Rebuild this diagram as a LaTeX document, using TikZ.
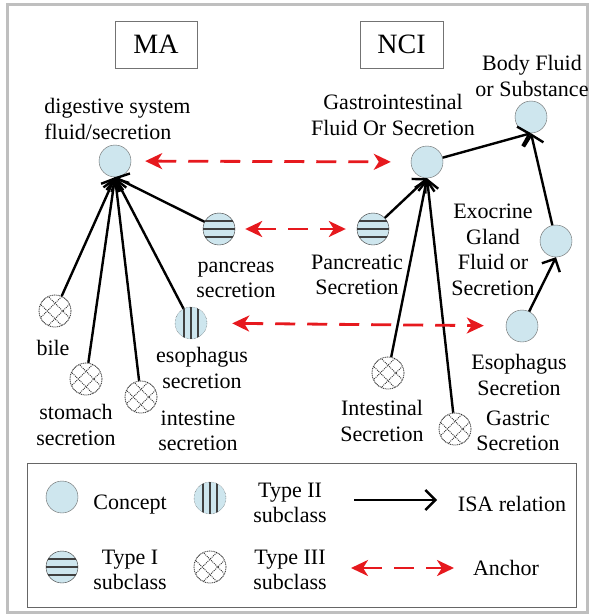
\documentclass[tikz,border=0pt]{standalone}
\usepackage{fontspec}
\setmainfont{Liberation Serif}
\usepackage{tikz}
\usetikzlibrary{arrows.meta}

\definecolor{cfill}{RGB}{206,230,238}
\definecolor{ared}{RGB}{230,25,30}

\begin{document}
\begin{tikzpicture}[x=1pt, y=-1pt, thick,
  lbl/.style = {align=center, inner sep=0pt, font=\fontsize{22}{25.5}\selectfont},
  hdr/.style = {draw=black!55, thin, minimum height=47pt, inner sep=0pt, font=\fontsize{28}{30}\selectfont},
  concept/.style = {circle, draw=black!60, thin, fill=cfill, minimum size=32pt, inner sep=0pt},
  typei/.style = {concept, draw=black!80, path picture={
      \foreach \k in {-8,0,8}
        \draw[black!75, line width=1.3pt] ([yshift=\k pt]path picture bounding box.west) -- ([yshift=\k pt]path picture bounding box.east);}},
  typeii/.style = {concept, densely dotted, draw=black!80, path picture={
      \foreach \k in {-7,0,7}
        \draw[black!75, solid, line width=1.3pt] ([xshift=\k pt]path picture bounding box.north) -- ([xshift=\k pt]path picture bounding box.south);}},
  typeiii/.style = {concept, fill=white, line width=0.8pt, dash pattern=on 1pt off 0.8pt, draw=black!85, path picture={
      \foreach \k in {-16,-5.5,5.5,16} {
        \draw[black!80, line width=0.8pt, dash pattern=on 1pt off 1pt] ([shift={({(-\k-24)*0.7071},{(\k-24)*0.7071})}]path picture bounding box.center) -- ([shift={({(-\k+24)*0.7071},{(\k+24)*0.7071})}]path picture bounding box.center);
        \draw[black!80, line width=0.8pt, dash pattern=on 1pt off 1pt] ([shift={({(\k-24)*0.7071},{(\k+24)*0.7071})}]path picture bounding box.center) -- ([shift={({(\k+24)*0.7071},{(\k-24)*0.7071})}]path picture bounding box.center);}}},
  isa/.style = {-{Straight Barb[length=10pt,width=20pt]}, line width=2.4pt},
  anc/.style = {{Stealth[length=17pt,width=16pt,inset=5pt]}-{Stealth[length=17pt,width=16pt,inset=5pt]}, draw=ared, line width=2.8pt, dash pattern=on 20pt off 12pt}]

\useasboundingbox (0,0) rectangle (594,615);
\draw[line width=3pt, black!25] (7,4.5) rectangle (587.5,612);

\node[hdr, minimum width=82pt] (ma) at (156,44.5) {MA};
\node[hdr, minimum width=83pt] (nci) at (401.5,44.5) {NCI};

% MA side
\node[concept] (dig) at (115,161) {};
\node[lbl, align=left, anchor=west] (digL) at (44,119) {digestive system\\fluid/secretion};
\node[typei] (pan) at (219,229) {};
\node[lbl] (panL) at (236,280) {pancreas\\secretion};
\node[typeii] (eso) at (191,323) {};
\node[lbl] (esoL) at (202,368) {esophagus\\secretion};
\node[typeiii] (bile) at (55,311) {};
\node[lbl] (bileL) at (53,348) {bile};
\node[typeiii] (sto) at (86,379) {};
\node[lbl] (stoL) at (76,425) {stomach\\secretion};
\node[typeiii] (int) at (141,397) {};
\node[lbl] (intL) at (198,431) {intestine\\secretion};

% NCI side
\node[concept] (gas) at (427,162) {};
\node[lbl] (gasL) at (393,115) {Gastrointestinal\\Fluid Or Secretion};
\node[concept] (body) at (531,117) {};
\node[lbl] (bodyL) at (532,76) {Body Fluid\\or Substance};
\node[concept] (exo) at (556,241) {};
\node[lbl] (exoL) at (493,250) {Exocrine\\Gland\\Fluid or\\Secretion};
\node[typei] (pnc) at (373,229) {};
\node[lbl] (pncL) at (357,275) {Pancreatic\\Secretion};
\node[concept] (oes) at (522,326) {};
\node[lbl] (oesL) at (519,375) {Esophagus\\Secretion};
\node[typeiii] (itl) at (388,373) {};
\node[lbl] (itlL) at (382,421) {Intestinal\\Secretion};
\node[typeiii] (gst) at (455,429) {};
\node[lbl] (gstL) at (518,431) {Gastric\\Secretion};

\foreach \n in {bile,sto,int,eso,pan} \draw[isa] (\n) -- (dig.south);
\foreach \n in {pnc,itl,gst} \draw[isa] (\n) -- (gas.south);
\draw[isa] (gas) -- (body.south);
\draw[isa] (exo) -- (body.south);
\draw[isa] (oes) -- (exo.south);

\draw[anc, shorten <=14pt, shorten >=20pt] (dig) -- (gas);
\draw[anc, shorten <=10pt, shorten >=11pt] (pan) -- (pnc);
\draw[anc, shorten <=25pt, shorten >=22pt] (eso) -- (oes);

% legend
\draw[black!60, thin] (27,463) rectangle (576,607);
\node[concept] (lc) at (62,497) {};
\node[lbl] (lcL) at (130,505) {Concept};
\node[typeii] (l2) at (210,498) {};
\node[lbl] (l2L) at (290,503) {Type II\\subclass};
\node[typei] (l1) at (62,567) {};
\node[lbl] (l1L) at (130,570) {Type I\\subclass};
\node[typeiii] (l3) at (210,567) {};
\node[lbl] (l3L) at (290,570) {Type III\\subclass};
\coordinate (isaA) at (354,500);
\coordinate (isaB) at (437,500);
\draw[isa] (isaA) -- (isaB);
\node[lbl] (isaL) at (512,504) {ISA relation};
\coordinate (ancA) at (351,568);
\coordinate (ancB) at (454,568);
\draw[anc] (ancA) -- (ancB);
\node[lbl] (ancL) at (506,568) {Anchor};

\end{tikzpicture}
\end{document}
